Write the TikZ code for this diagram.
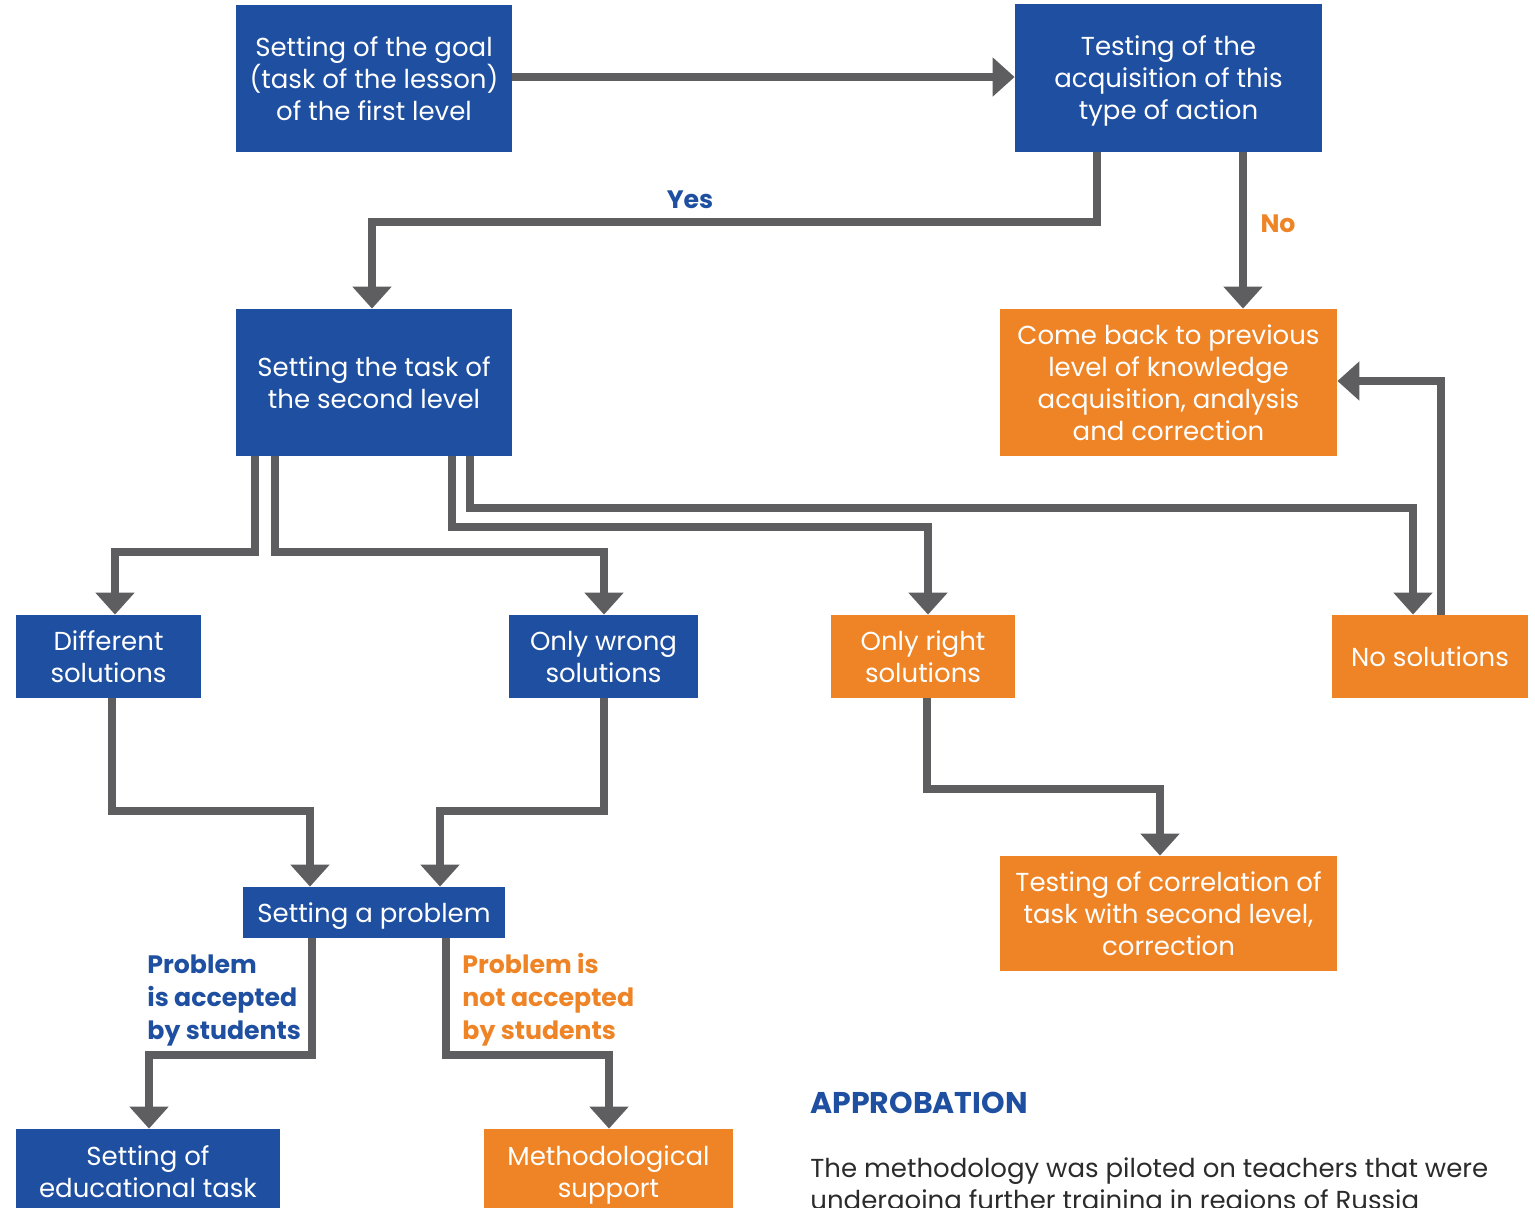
\documentclass[tikz,border=0pt]{standalone}
\usepackage{fontspec}
\setmainfont{Poppins}
\usetikzlibrary{arrows.meta}
\definecolor{cblue}{HTML}{1F4FA0}
\definecolor{corange}{HTML}{EE8426}
\definecolor{cgray}{HTML}{5E5E60}
\definecolor{ctext}{HTML}{2B2B2B}
\begin{document}
\begin{tikzpicture}[x=0.5pt,y=-0.5pt,
 box/.style={inner sep=0pt, align=center, text=white, text depth=0pt, font=\fontsize{13}{16}\selectfont},
 bluebox/.style={box, fill=cblue},
 orbox/.style={box, fill=corange},
 arr/.style={draw=cgray, line width=4pt, -{Triangle[width=19pt,length=11pt]}},
 lab/.style={font=\bfseries\fontsize{12.6}{16.5}\selectfont, align=left, inner sep=0pt}]
\useasboundingbox (0,0) rectangle (1535,1207);

\node[bluebox, minimum width=138pt, minimum height=73.5pt] (goal) at (374,78.5) {Setting of the goal\\(task of the lesson)\\of the first level};
\node[bluebox, minimum width=153.5pt, minimum height=74pt] (test) at (1168.5,78) {Testing of the\\acquisition of this\\type of action};
\node[bluebox, minimum width=138pt, minimum height=73.5pt] (second) at (374,382.5) {Setting the task of\\the second level};
\node[orbox, minimum width=168.5pt, minimum height=73.5pt] (back) at (1168.5,382.5) {Come back to previous\\level of knowledge\\acquisition, analysis\\and correction};
\node[bluebox, minimum width=92.5pt, minimum height=41.5pt] (diff) at (108.5,656.5) {Different\\solutions};
\node[bluebox, minimum width=94.5pt, minimum height=41.5pt] (wrong) at (603.5,656.5) {Only wrong\\solutions};
\node[orbox, minimum width=92pt, minimum height=41.5pt] (right) at (923,656.5) {Only right\\solutions};
\node[orbox, minimum width=98pt, minimum height=41.5pt] (nosol) at (1430,656.5) {No solutions};
\node[orbox, minimum width=168.5pt, minimum height=57.5pt] (corr) at (1168.5,913.5) {Testing of correlation of\\task with second level,\\correction};
\node[bluebox, minimum width=131pt, minimum height=25.5pt] (prob) at (374,912.5) {Setting a problem};
\node[bluebox, minimum width=132pt, minimum height=43pt] (edu) at (148,1172) {Setting of\\educational task};
\node[orbox, minimum width=124.5pt, minimum height=43pt] (meth) at (608.5,1172) {Methodological\\support};

\draw[arr] (goal.east |- 0,77) -- (test.west |- 0,77);
\draw[arr] (test.south -| 1097,0) |- (372,222) -- (second.north -| 372,0);
\draw[arr] (test.south -| 1243,0) -- (back.north -| 1243,0);
\draw[arr] (nosol.north -| 1441,0) |- (back.east |- 0,381);
\draw[arr] (second.south -| 255,0) |- (115,552) -- (diff.north -| 115,0);
\draw[arr] (second.south -| 275,0) |- (604,552) -- (wrong.north -| 604,0);
\draw[arr] (second.south -| 452,0) |- (928,527) -- (right.north -| 928,0);
\draw[arr] (second.south -| 470,0) |- (1413,508) -- (nosol.north -| 1413,0);
\draw[arr] (diff.south -| 112,0) |- (310,811) -- (prob.north -| 310,0);
\draw[arr] (wrong.south -| 604,0) |- (440,811) -- (prob.north -| 440,0);
\draw[arr] (right.south -| 927,0) |- (1160,789) -- (corr.north -| 1160,0);
\draw[arr] (prob.south -| 312,0) |- (149,1055) -- (edu.north -| 149,0);
\draw[arr] (prob.south -| 446,0) |- (609,1055) -- (meth.north -| 609,0);

\node[lab, text=cblue] (yes) at (690,200) {Yes};
\node[lab, text=corange] (no) at (1278,224) {No};
\node[lab, text=cblue, anchor=west] (acc) at (147,1000) {Problem\\is accepted\\by students};
\node[lab, text=corange, anchor=west] (nacc) at (462,1000) {Problem is\\not accepted\\by students};
\node[inner sep=0pt, anchor=west, text=cblue, font=\bfseries\fontsize{15}{18}\selectfont] (appr) at (810,1103) {APPROBATION};
\node[inner sep=0pt, anchor=north west, align=left, text=ctext, font=\fontsize{13}{16}\selectfont] (para) at (810,1157) {The methodology was piloted on teachers that were\\undergoing further training in regions of Russia};
\end{tikzpicture}
\end{document}
